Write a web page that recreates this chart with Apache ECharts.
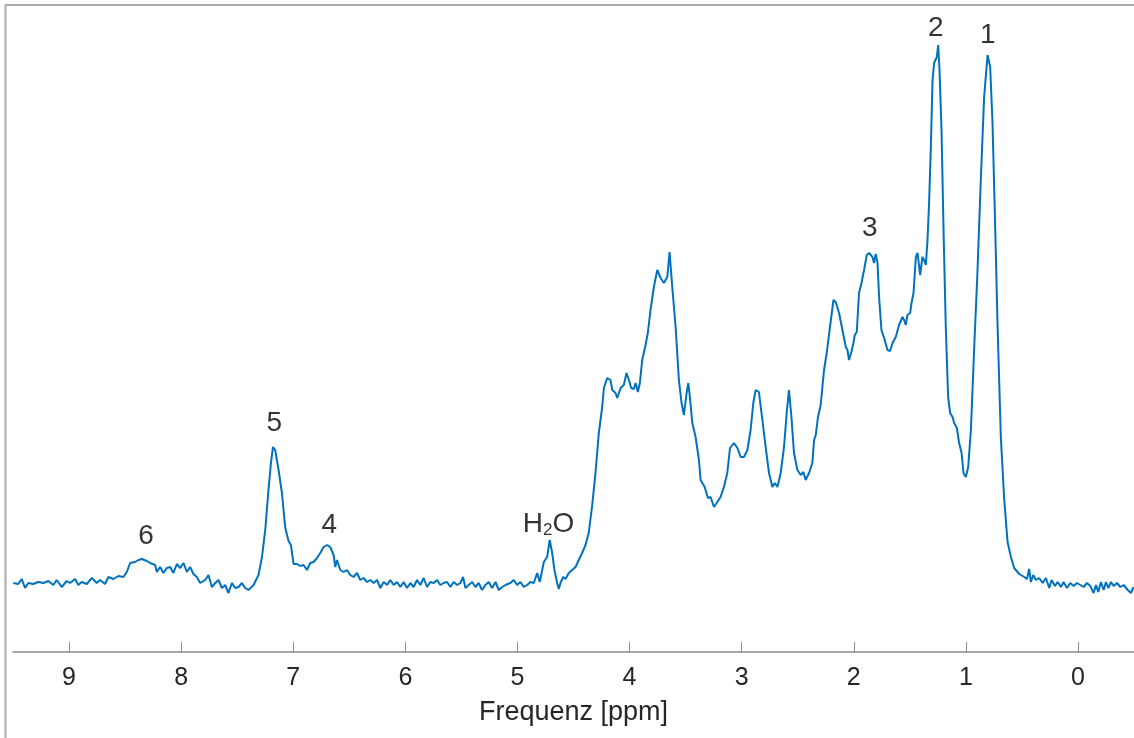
<!DOCTYPE html>
<html>
<head>
<meta charset="utf-8">
<title>Spektrum</title>
<script src="https://cdn.jsdelivr.net/npm/echarts@6/dist/echarts.min.js"></script>
<style>
  html, body { margin: 0; padding: 0; background: #ffffff; }
  #chart { width: 1134px; height: 738px; }
</style>
</head>
<body>
<div id="chart"></div>
<script>
// Chemical shift (ppm) of each sample point, from 9.5 down to -0.5
const shiftPpm = [
  9.497, 9.453, 9.422, 9.393, 9.363, 9.319, 9.274, 9.229, 9.185, 9.140,
  9.110, 9.065, 9.021, 8.991, 8.946, 8.917, 8.887, 8.842, 8.797, 8.753,
  8.723, 8.679, 8.649, 8.605, 8.560, 8.515, 8.485, 8.455, 8.411, 8.381,
  8.351, 8.306, 8.277, 8.232, 8.217, 8.188, 8.158, 8.128, 8.098, 8.069,
  8.038, 8.009, 7.979, 7.949, 7.920, 7.890, 7.860, 7.830, 7.786, 7.756,
  7.726, 7.696, 7.667, 7.637, 7.607, 7.578, 7.547, 7.518, 7.488, 7.458,
  7.429, 7.399, 7.384, 7.354, 7.310, 7.279, 7.250, 7.221, 7.199, 7.181,
  7.161, 7.131, 7.101, 7.071, 7.042, 7.021, 6.997, 6.967, 6.938, 6.908,
  6.878, 6.848, 6.819, 6.788, 6.759, 6.729, 6.699, 6.670, 6.640, 6.625,
  6.610, 6.580, 6.551, 6.521, 6.491, 6.462, 6.431, 6.402, 6.372, 6.342,
  6.313, 6.283, 6.253, 6.223, 6.194, 6.163, 6.134, 6.104, 6.074, 6.045,
  6.015, 5.985, 5.955, 5.926, 5.896, 5.866, 5.837, 5.806, 5.777, 5.747,
  5.717, 5.688, 5.658, 5.628, 5.598, 5.569, 5.538, 5.509, 5.485, 5.464,
  5.435, 5.404, 5.375, 5.346, 5.315, 5.286, 5.256, 5.226, 5.196, 5.167,
  5.137, 5.107, 5.063, 5.033, 5.003, 4.973, 4.944, 4.913, 4.884, 4.854,
  4.824, 4.801, 4.779, 4.765, 4.735, 4.712, 4.690, 4.670, 4.646, 4.631,
  4.616, 4.592, 4.571, 4.542, 4.512, 4.482, 4.453, 4.423, 4.393, 4.364,
  4.333, 4.304, 4.274, 4.244, 4.229, 4.199, 4.170, 4.154, 4.125, 4.110,
  4.080, 4.051, 4.027, 4.006, 3.985, 3.962, 3.946, 3.926, 3.908, 3.887,
  3.857, 3.837, 3.813, 3.783, 3.753, 3.723, 3.694, 3.663, 3.643, 3.619,
  3.589, 3.560, 3.536, 3.515, 3.491, 3.476, 3.462, 3.440, 3.411, 3.381,
  3.366, 3.351, 3.330, 3.313, 3.301, 3.277, 3.247, 3.217, 3.188, 3.158,
  3.128, 3.104, 3.069, 3.038, 3.009, 2.979, 2.949, 2.920, 2.896, 2.875,
  2.846, 2.815, 2.786, 2.756, 2.726, 2.705, 2.681, 2.652, 2.622, 2.598,
  2.578, 2.556, 2.533, 2.503, 2.473, 2.449, 2.429, 2.399, 2.369, 2.354,
  2.339, 2.319, 2.295, 2.265, 2.241, 2.212, 2.181, 2.161, 2.131, 2.101,
  2.071, 2.056, 2.042, 2.021, 2.003, 1.991, 1.973, 1.953, 1.931, 1.908,
  1.884, 1.863, 1.833, 1.819, 1.804, 1.788, 1.774, 1.753, 1.729, 1.699,
  1.676, 1.654, 1.625, 1.596, 1.565, 1.551, 1.536, 1.521, 1.497, 1.485,
  1.467, 1.446, 1.431, 1.408, 1.387, 1.372, 1.357, 1.342, 1.328, 1.313,
  1.297, 1.283, 1.268, 1.259, 1.247, 1.235, 1.217, 1.199, 1.179, 1.158,
  1.140, 1.119, 1.104, 1.080, 1.060, 1.038, 1.021, 1.000, 0.979, 0.955,
  0.926, 0.896, 0.866, 0.837, 0.806, 0.783, 0.762, 0.741, 0.717, 0.688,
  0.658, 0.628, 0.598, 0.569, 0.524, 0.479, 0.455, 0.435, 0.420, 0.399,
  0.375, 0.346, 0.315, 0.286, 0.256, 0.235, 0.205, 0.181, 0.152, 0.128,
  0.098, 0.069, 0.038, 0.009, -0.021, -0.051, -0.080, -0.110, -0.140, -0.161,
  -0.181, -0.205, -0.229, -0.250, -0.271, -0.295, -0.319, -0.348, -0.378, -0.408,
  -0.444, -0.473, -0.497
];

// Signal intensity (arbitrary units) at each shift above
const intensity = [
  69, 68, 73, 64, 69, 68, 70, 69, 71, 67,
  72, 65, 71, 69, 73, 67, 70, 68, 74, 69,
  72, 68, 75, 73, 76, 75, 80, 89, 90, 92,
  93, 91, 89, 87, 80, 85, 79, 84, 85, 79,
  88, 84, 89, 80, 85, 78, 75, 69, 72, 77,
  65, 69, 72, 64, 67, 59, 69, 64, 65, 69,
  64, 62, 60, 67, 77, 95, 122, 162, 189, 205,
  202, 182, 159, 124, 111, 107, 88, 88, 86, 87,
  82, 89, 90, 94, 99, 105, 107, 105, 97, 85,
  92, 82, 80, 82, 77, 75, 79, 72, 74, 70,
  72, 69, 72, 64, 70, 67, 72, 67, 70, 65,
  70, 64, 69, 65, 72, 67, 74, 65, 70, 69,
  72, 67, 69, 70, 65, 70, 67, 69, 75, 64,
  67, 70, 65, 69, 62, 67, 70, 64, 70, 62,
  65, 67, 69, 72, 67, 70, 65, 67, 70, 69,
  79, 70, 82, 90, 95, 112, 99, 82, 69, 63,
  69, 75, 73, 79, 82, 85, 92, 99, 107, 119,
  147, 179, 219, 245, 264, 274, 272, 262, 259, 254,
  264, 267, 279, 272, 264, 263, 269, 260, 269, 292,
  307, 319, 342, 365, 382, 374, 369, 375, 400, 365,
  325, 272, 249, 237, 259, 269, 255, 229, 215, 192,
  172, 170, 165, 164, 154, 155, 145, 150, 155, 165,
  179, 204, 209, 204, 195, 195, 202, 222, 249, 262,
  260, 232, 205, 179, 165, 169, 165, 179, 205, 239,
  262, 235, 199, 182, 177, 180, 172, 179, 189, 212,
  217, 235, 247, 282, 299, 325, 352, 350, 339, 322,
  305, 302, 292, 300, 309, 317, 320, 359, 369, 382,
  397, 399, 395, 389, 398, 389, 355, 322, 314, 302,
  301, 309, 315, 327, 335, 332, 327, 337, 339, 349,
  359, 395, 399, 377, 395, 392, 387, 412, 449, 502,
  572, 589, 590, 595, 607, 582, 522, 422, 325, 255,
  239, 235, 229, 224, 209, 199, 179, 175, 185, 222,
  303, 381, 474, 555, 597, 585, 529, 437, 326, 215,
  153, 110, 95, 84, 78, 75, 73, 83, 70, 77,
  72, 74, 69, 74, 64, 72, 66, 70, 65, 70,
  64, 69, 66, 69, 67, 65, 69, 66, 59, 67,
  60, 70, 62, 70, 64, 70, 66, 69, 65, 67,
  62, 59, 65
];

// Tick positions on the shift axis
const tickPpm = [0, 1, 2, 3, 4, 5, 6, 7, 8, 9];

// Peak annotations: text, shift and height of the label centre
const peakText  = ['1', '2', '3', '4', '5', '6', 'H2O'];
const peakPpm   = [0.804, 1.268, 1.857, 6.679, 7.170, 8.313, 4.723];
const peakLevel = [617, 624, 424, 127, 229, 116, 128];

const FONT = '"Liberation Sans", Arial, Helvetica, sans-serif';
const TEXT_GREY = '#262626';

const spectrum = shiftPpm.map((x, i) => [x, intensity[i]]);
const annotations = peakText.map((t, i) => ({ value: [peakPpm[i], peakLevel[i]], name: t }));

const chart = echarts.init(document.getElementById('chart'), null, { renderer: 'canvas' });

chart.setOption({
  backgroundColor: '#ffffff',
  animation: false,
  grid: { left: 13, right: 0, top: 12, bottom: 86, containLabel: false },
  xAxis: {
    type: 'value',
    min: -0.5,
    max: 9.5,
    inverse: true,
    name: 'Frequenz [ppm]',
    nameLocation: 'middle',
    nameGap: 47,
    nameTextStyle: { color: TEXT_GREY, fontSize: 27, fontFamily: FONT },
    axisLine: { show: true, onZero: false, lineStyle: { color: '#8c8c8c', width: 1.5 } },
    axisTick: { show: true, inside: true, length: 10, customValues: tickPpm,
                lineStyle: { color: '#8c8c8c', width: 1 } },
    axisLabel: { show: true, customValues: tickPpm, margin: 14,
                 color: TEXT_GREY, fontSize: 25, fontFamily: FONT },
    splitLine: { show: false }
  },
  yAxis: {
    type: 'value',
    min: 0,
    max: 640,
    show: false,
    splitLine: { show: false }
  },
  series: [
    {
      type: 'line',
      data: spectrum,
      showSymbol: false,
      symbol: 'none',
      smooth: false,
      lineStyle: { color: '#0072BD', width: 2 },
      z: 2
    },
    {
      type: 'scatter',
      data: annotations,
      symbolSize: 0,
      silent: true,
      z: 3,
      label: {
        show: true,
        position: 'inside',
        color: '#000000',
        fontSize: 28,
        fontFamily: FONT,
        formatter: p => p.name === 'H2O' ? '{n|H}{s|2}{n|O}' : '{n|' + p.name + '}',
        rich: {
          n: { fontSize: 28, fontFamily: FONT, color: '#000000', lineHeight: 30 },
          s: { fontSize: 17, fontFamily: FONT, color: '#000000', lineHeight: 17,
               verticalAlign: 'bottom', padding: [0, 0, 0, 0] }
        }
      }
    }
  ],
  graphic: [
    { type: 'line', shape: { x1: 5, y1: 5, x2: 1134, y2: 5 },
      style: { stroke: '#aaaaaa', lineWidth: 2 }, silent: true },
    { type: 'line', shape: { x1: 5.5, y1: 5, x2: 5.5, y2: 738 },
      style: { stroke: '#aaaaaa', lineWidth: 2 }, silent: true }
  ]
});
</script>
</body>
</html>
